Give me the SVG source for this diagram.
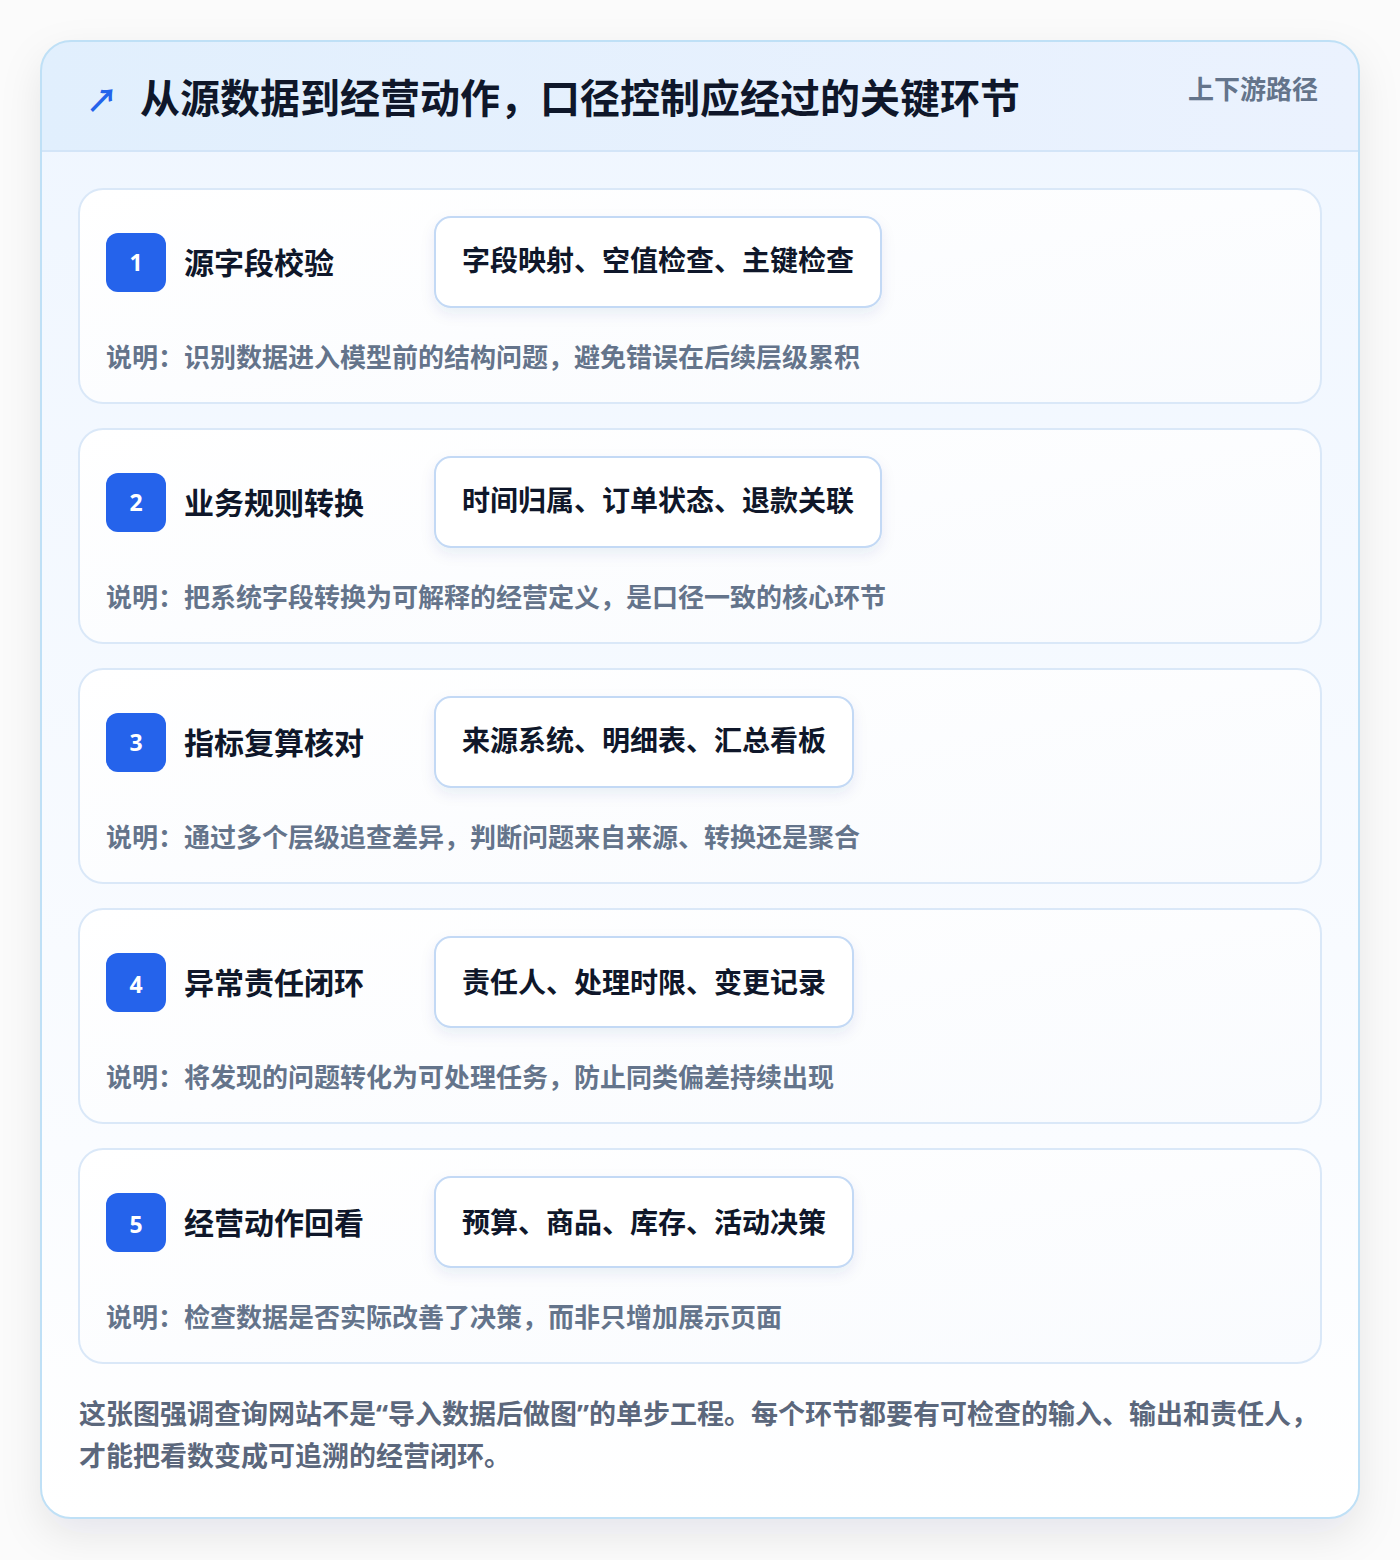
<svg xmlns="http://www.w3.org/2000/svg" width="1400" height="1560" viewBox="0 0 1400 1560">
<defs>
<linearGradient id="hdr" x1="0" y1="0" x2="1" y2="0"><stop offset="0" stop-color="#e1effd"/><stop offset="1" stop-color="#ebf2fe"/></linearGradient>
<linearGradient id="body" x1="0" y1="0" x2="0" y2="1"><stop offset="0" stop-color="#eff6ff"/><stop offset="0.75" stop-color="#fafcff"/><stop offset="1" stop-color="#ffffff"/></linearGradient>
<linearGradient id="card" x1="0" y1="0" x2="1" y2="1"><stop offset="0" stop-color="#ffffff"/><stop offset="1" stop-color="#f9fbfe"/></linearGradient>
<filter id="outerShadow" x="-10%" y="-10%" width="120%" height="120%"><feDropShadow dx="0" dy="16" stdDeviation="20" flood-color="#0f172a" flood-opacity="0.09"/></filter>
<filter id="tagShadow" x="-10%" y="-30%" width="120%" height="170%"><feDropShadow dx="0" dy="6" stdDeviation="7" flood-color="#1e3a8a" flood-opacity="0.08"/></filter>
<clipPath id="outerClip"><rect x="41" y="41" width="1318" height="1477" rx="30"/></clipPath>
</defs>
<style>
.cjk{font-family:"Noto Sans CJK SC","Noto Sans",sans-serif;font-weight:700}
.title{font-size:40px;fill:#0f172a}
.side{font-size:26px;fill:#64748b}
.card{fill:url(#card);stroke:#dae8f8;stroke-width:2}
.badge{fill:#2563eb}
.num{font-family:"Noto Sans","DejaVu Sans",sans-serif;font-weight:700;font-size:23px;fill:#ffffff}
.stitle{font-size:30px;fill:#0f172a}
.tag{fill:#ffffff;stroke:#c3d9f5;stroke-width:2}
.tagt{font-size:28px;fill:#0f172a}
.desc{font-size:26px;fill:#64748b}
.foot{font-family:"Noto Sans","Noto Sans CJK SC",sans-serif;font-weight:700;font-size:27px;fill:#5b677c}
</style>
<rect x="0" y="0" width="1400" height="1560" fill="#fbfbfb"/>
<g id="frame">
<rect x="41" y="41" width="1318" height="1477" rx="30" fill="#ffffff" filter="url(#outerShadow)"/>
<g clip-path="url(#outerClip)">
<rect x="41" y="41" width="1318" height="1477" fill="url(#body)"/>
<rect x="41" y="41" width="1318" height="110" fill="url(#hdr)"/>
<line x1="41" y1="151" x2="1359" y2="151" stroke="#d3e5f8" stroke-width="2"/>
</g>
<rect x="41" y="41" width="1318" height="1477" rx="30" fill="none" stroke="#bfe0f6" stroke-width="2"/>
</g>
<g id="header">
<text x="86" y="112" class="cjk" font-size="32" fill="#2563eb">↗</text>
<text x="140" y="113" class="cjk title">从源数据到经营动作，口径控制应经过的关键环节</text>
<text x="1318" y="99" class="cjk side" text-anchor="end">上下游路径</text>
</g>
<g id="connectors"></g>
<g id="step1">
<rect x="79" y="189" width="1242" height="214" rx="24" class="card"/>
<rect x="106" y="233" width="60" height="59" rx="12" class="badge"/>
<text x="136" y="271" class="num" text-anchor="middle">1</text>
<text x="184" y="274" class="cjk stitle">源字段校验</text>
<rect x="435" y="217" width="446" height="90" rx="16" class="tag" filter="url(#tagShadow)"/>
<text x="462" y="271" class="cjk tagt">字段映射、空值检查、主键检查</text>
<text x="106" y="367" class="cjk desc">说明：识别数据进入模型前的结构问题，避免错误在后续层级累积</text>
</g>
<g id="step2">
<rect x="79" y="429" width="1242" height="214" rx="24" class="card"/>
<rect x="106" y="473" width="60" height="59" rx="12" class="badge"/>
<text x="136" y="511" class="num" text-anchor="middle">2</text>
<text x="184" y="514" class="cjk stitle">业务规则转换</text>
<rect x="435" y="457" width="446" height="90" rx="16" class="tag" filter="url(#tagShadow)"/>
<text x="462" y="511" class="cjk tagt">时间归属、订单状态、退款关联</text>
<text x="106" y="607" class="cjk desc">说明：把系统字段转换为可解释的经营定义，是口径一致的核心环节</text>
</g>
<g id="step3">
<rect x="79" y="669" width="1242" height="214" rx="24" class="card"/>
<rect x="106" y="713" width="60" height="59" rx="12" class="badge"/>
<text x="136" y="751" class="num" text-anchor="middle">3</text>
<text x="184" y="754" class="cjk stitle">指标复算核对</text>
<rect x="435" y="697" width="418" height="90" rx="16" class="tag" filter="url(#tagShadow)"/>
<text x="462" y="751" class="cjk tagt">来源系统、明细表、汇总看板</text>
<text x="106" y="847" class="cjk desc">说明：通过多个层级追查差异，判断问题来自来源、转换还是聚合</text>
</g>
<g id="step4">
<rect x="79" y="909" width="1242" height="214" rx="24" class="card"/>
<rect x="106" y="953" width="60" height="59" rx="12" class="badge"/>
<text x="136" y="993" class="num" text-anchor="middle">4</text>
<text x="184" y="994" class="cjk stitle">异常责任闭环</text>
<rect x="435" y="937" width="418" height="90" rx="16" class="tag" filter="url(#tagShadow)"/>
<text x="462" y="993" class="cjk tagt">责任人、处理时限、变更记录</text>
<text x="106" y="1087" class="cjk desc">说明：将发现的问题转化为可处理任务，防止同类偏差持续出现</text>
</g>
<g id="step5">
<rect x="79" y="1149" width="1242" height="214" rx="24" class="card"/>
<rect x="106" y="1193" width="60" height="59" rx="12" class="badge"/>
<text x="136" y="1233" class="num" text-anchor="middle">5</text>
<text x="184" y="1234" class="cjk stitle">经营动作回看</text>
<rect x="435" y="1177" width="418" height="90" rx="16" class="tag" filter="url(#tagShadow)"/>
<text x="462" y="1233" class="cjk tagt">预算、商品、库存、活动决策</text>
<text x="106" y="1327" class="cjk desc">说明：检查数据是否实际改善了决策，而非只增加展示页面</text>
</g>
<g id="footer">
<text x="79" y="1424" class="foot">这张图强调查询网站不是“导入数据后做图”的单步工程。每个环节都要有可检查的输入、输出和责任人，</text>
<text x="79" y="1466" class="foot">才能把看数变成可追溯的经营闭环。</text>
</g>
</svg>
